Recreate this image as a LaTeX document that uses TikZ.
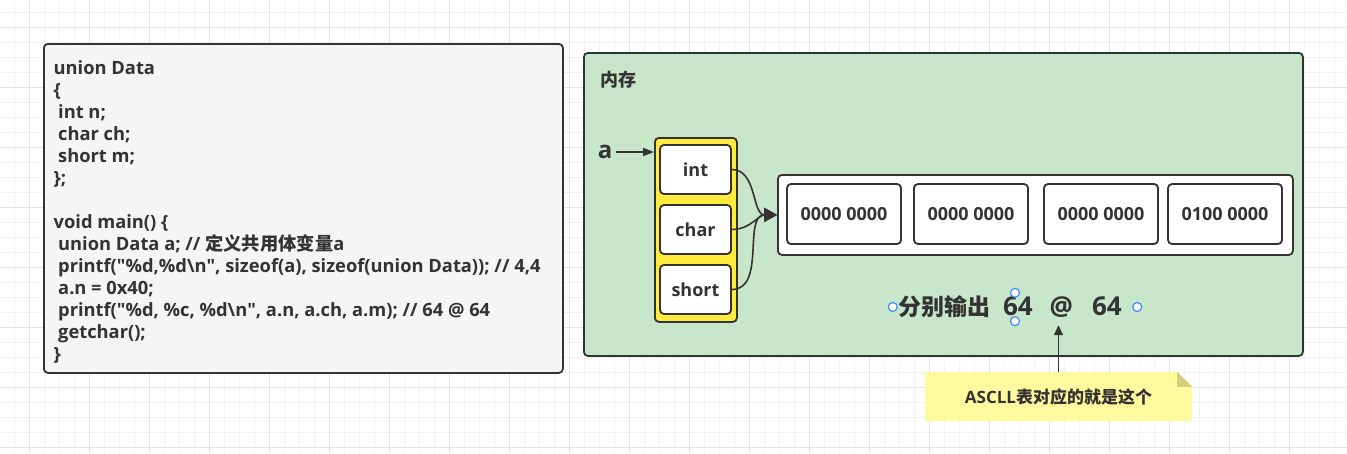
\documentclass[tikz,border=0pt]{standalone}
\usepackage{fontspec}
\setmainfont{Open Sans}
\newfontfamily\cjk{Noto Sans CJK SC}
\usetikzlibrary{arrows.meta, positioning, backgrounds}
\definecolor{ink}{HTML}{333333}
\definecolor{codegray}{HTML}{F5F5F5}
\definecolor{memgreen}{HTML}{C8E6C9}
\definecolor{ptryellow}{HTML}{FFEB3B}
\definecolor{notepaper}{HTML}{FFFA9E}
\definecolor{notefold}{HTML}{D3CF7C}
\definecolor{gridminor}{HTML}{F2F2F2}
\definecolor{gridmajor}{HTML}{E3E3E3}
\definecolor{handle}{HTML}{3D8BFF}
\newcommand{\codeindent}{\hspace*{4.5pt}}

\begin{document}
\begin{tikzpicture}[
    x=1pt, y=-1pt,
    >=Stealth,
    panel/.style={draw=ink, line width=1.8pt, rounded corners=4pt, anchor=north west, inner sep=0pt},
    cell/.style={draw=ink, line width=1.8pt, rounded corners=4pt, fill=white, minimum width=114pt, minimum height=60pt, font=\bfseries\fontsize{18}{22}\selectfont, text=ink},
    field/.style={cell, minimum width=71pt, minimum height=49pt},
    label/.style={font=\bfseries\fontsize{18}{22}\selectfont, text=ink},
    codetext/.style={font=\bfseries\fontsize{18.3}{22}\selectfont, text=ink, align=left, inner sep=0pt},
    flow/.style={-{Triangle[length=13pt,width=14pt]}, draw=ink, line width=1.6pt},
    ptrflow/.style={-{Triangle[length=11pt,width=8pt]}, draw=ink, line width=1.5pt},
    tipflow/.style={-{Triangle[length=10pt,width=9pt]}, draw=ink, line width=1.6pt},
    gridline/.style={draw=gridminor, line width=1pt},
    handlemark/.style={draw=handle, fill=white, line width=1.2pt}
  ]
    \useasboundingbox (0,0) rectangle (1347,453);
    \begin{scope}[on background layer]
      \fill[white] (0,0) rectangle (1347,453);
      \foreach \gx in {14.3,29.3,...,1347} \draw[gridline] (\gx,0) -- (\gx,453);
      \foreach \gy in {12.3,27.3,...,453} \draw[gridline] (0,\gy) -- (1347,\gy);
      \foreach \gx in {29.3,89.3,...,1347} \draw[gridline, draw=gridmajor] (\gx,0) -- (\gx,453);
      \foreach \gy in {27.3,87.3,...,453} \draw[gridline, draw=gridmajor] (0,\gy) -- (1347,\gy);
    \end{scope}

    \node[panel, fill=codegray, minimum width=519pt, minimum height=329pt] (code) at (43,43) {};
    \node[codetext, anchor=north west] (source) at (53.5,60) {union Data\\
      \{\\
      \codeindent int n;\\
      \codeindent char ch;\\
      \codeindent short m;\\
      \};\\[22pt]
      void main() \{\\
      \codeindent union Data a; // {\cjk 定义共用体变量}a\\
      \codeindent printf(\textquotedbl\%d,\%d\textbackslash n\textquotedbl, sizeof(a), sizeof(union Data)); // 4,4\\
      \codeindent a.n = 0x40;\\
      \codeindent printf(\textquotedbl\%d, \%c, \%d\textbackslash n\textquotedbl, a.n, a.ch, a.m); // 64 @ 64\\
      \codeindent getchar();\\
      \}};

    \node[panel, fill=memgreen, minimum width=719pt, minimum height=303pt] (memory) at (583,52) {};
    \node[label, anchor=west] (memlabel) at (597,80) {\cjk 内存};
    \node[font=\bfseries\fontsize{24}{28}\selectfont, text=ink] (avar) at (605,152) {a};
    \node[panel, fill=ptryellow, minimum width=82pt, minimum height=184pt] (ptr) at (654,137) {};
    \node[field] (fint) at (695.5,169.5) {int};
    \node[field, below=9.2pt of fint] (fchar) {char};
    \node[field, below=9.2pt of fchar] (fshort) {short};

    \node[panel, fill=white, minimum width=515pt, minimum height=80pt] (bytes) at (777,174) {};
    \node[cell] (b1) at (844,214) {0000 0000};
    \node[cell, right=11.2pt of b1] (b2) {0000 0000};
    \node[cell, right=14.2pt of b2] (b3) {0000 0000};
    \node[cell, right=8.2pt of b3] (b4) {0100 0000};

    \node[font=\bfseries\fontsize{23}{28}\selectfont, text=ink, text width=234pt, align=left, inner xsep=5pt, inner ysep=0pt, minimum height=28pt] (echo) at (1015,307) {{\cjk 分别输出}\hspace{13pt}{\fontsize{26}{28}\selectfont 64\hspace{17pt}@\hspace{19pt}64}};
    \foreach \h in {west,east,north,south} \draw[handlemark] (echo.\h) circle (4.5pt);

    \node[font=\bfseries\fontsize{17}{20}\selectfont, text=ink, minimum width=267pt, minimum height=49pt, inner sep=0pt] (note) at (1058.5,396.5) {ASCLL{\cjk 表对应的就是这个}};
    \begin{scope}[on background layer]
      \fill[notepaper] (note.south west) -- (note.north west) -- ([xshift=-15pt]note.north east) -- ([yshift=-15pt]note.north east) -- (note.south east) -- cycle;
      \fill[notefold] ([xshift=-15pt]note.north east) -- ([xshift=-15pt,yshift=-15pt]note.north east) -- ([yshift=-15pt]note.north east) -- cycle;
    \end{scope}

    \draw[ptrflow] (avar.east) -- (avar.east -| ptr.west);
    \draw[flow] (fint.east) to[out=0, in=180] (bytes.west);
    \draw[flow] (fchar.east) to[out=0, in=180] (bytes.west);
    \draw[flow] (fshort.east) to[out=0, in=180] (bytes.west);
    \draw[tipflow] (note.north) -- ([yshift=-4pt]note.north |- echo.south);
  \end{tikzpicture}
\end{document}
